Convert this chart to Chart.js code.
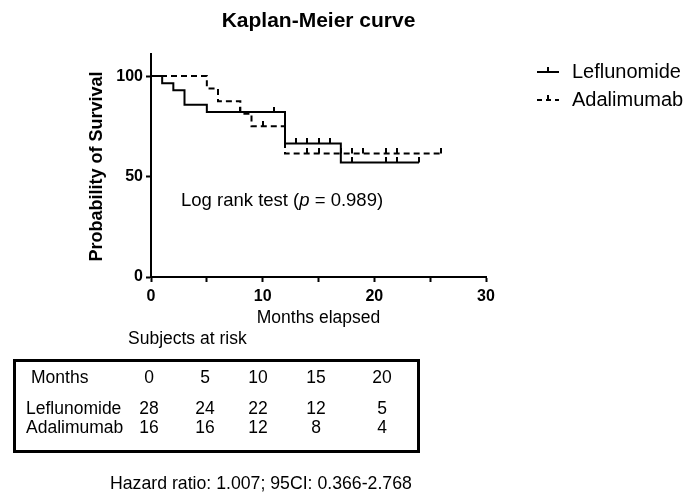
<!DOCTYPE html>
<html>
<head>
<meta charset="utf-8">
<script src="https://cdn.jsdelivr.net/npm/chart.js@4"></script>
<style>
  body { margin: 0; background: #fff; font-family: "Liberation Sans", Arial, sans-serif; color: #000; }
  #wrap { position: relative; width: 686px; height: 500px; overflow: hidden; }
  #km { position: absolute; left: 0; top: 0; }
  .txt { position: absolute; white-space: nowrap; font-size: 17.5px; line-height: 20px; }
  .c { transform: translateX(-50%); }
  #riskBox { position: absolute; left: 13px; top: 359px; width: 401px; height: 88px; border: 3px solid #000; }
</style>
</head>
<body>
<div id="wrap">
  <canvas id="km" width="686" height="500"></canvas>
  <div class="txt" style="left:181px; top:190px; font-size:18.5px;">Log rank test (<i>p</i> = 0.989)</div>
  <div class="txt" style="left:128px; top:328px;">Subjects at risk</div>
  <div id="riskBox"></div>
  <div id="riskRows"></div>
  <div class="txt" style="left:110px; top:473px; font-size:17.7px;">Hazard ratio: 1.007; 95CI: 0.366-2.768</div>
</div>
<script>
// survival curves (months, % surviving)
const lefTimes = [0, 1, 2, 3, 5, 12, 17, 24];
const lefSurv = [100, 96.4, 92.9, 85.7, 82.1, 66.5, 57, 57];
const lefCensor = [8, 11, 13, 14, 15, 16, 18, 21, 22, 24];

const adaTimes = [0, 5, 6, 8, 9, 12, 26];
const adaSurv = [100, 93.8, 87.5, 81.3, 75, 61.5, 61.5];
const adaCensor = [10, 14, 15, 17, 18, 19, 21, 22, 26];

const groupNames = ["Leflunomide", "Adalimumab"];

// subjects at risk table
const riskMonths = [0, 5, 10, 15, 20];
const lefAtRisk = [28, 24, 22, 12, 5];
const adaAtRisk = [16, 16, 12, 8, 4];

const yTicks = [0, 50, 100];

function levelAt(times, surv, t) {
  let v = surv[0];
  for (let i = 0; i < times.length; i++) {
    if (times[i] <= t) v = surv[i];
  }
  return v;
}

function stepPoints(times, surv) {
  return times.map((t, i) => ({ x: t, y: surv[i] }));
}

function censorPoints(times, surv, cens) {
  return cens.map(t => ({ x: t, y: levelAt(times, surv, t) }));
}

// small upward tick used for censored observations
const tick = document.createElement("canvas");
tick.width = 2;
tick.height = 10;
const tctx = tick.getContext("2d");
tctx.fillStyle = "#000";
tctx.fillRect(0, 0, 2, 5);

// risk table text
const colX = [149, 205, 258, 316, 382];
let html = "";
html += `<div class="txt" style="left:31px; top:367px;">Months</div>`;
html += `<div class="txt" style="left:26px; top:398px;">${groupNames[0]}</div>`;
html += `<div class="txt" style="left:26px; top:417px;">${groupNames[1]}</div>`;
riskMonths.forEach((m, i) => {
  html += `<div class="txt c" style="left:${colX[i]}px; top:367px;">${m}</div>`;
  html += `<div class="txt c" style="left:${colX[i]}px; top:398px;">${lefAtRisk[i]}</div>`;
  html += `<div class="txt c" style="left:${colX[i]}px; top:417px;">${adaAtRisk[i]}</div>`;
});
document.getElementById("riskRows").innerHTML = html;

const FONT = '"Liberation Sans", Arial, sans-serif';

const decor = {
  id: "decor",
  afterDraw(chart) {
    const ctx = chart.ctx;
    const a = chart.chartArea;
    ctx.save();
    ctx.fillStyle = "#000";
    ctx.textBaseline = "middle";

    // title
    ctx.font = "bold 21px " + FONT;
    ctx.textAlign = "center";
    ctx.fillText("Kaplan-Meier curve", (a.left + a.right) / 2, 21);

    // x title
    ctx.font = "17.5px " + FONT;
    ctx.fillText("Months elapsed", (a.left + a.right) / 2, 318);

    // y title
    ctx.save();
    ctx.translate(97, (a.top + a.bottom) / 2 + 1);
    ctx.rotate(-Math.PI / 2);
    ctx.font = "bold 18px " + FONT;
    ctx.fillText("Probability of Survival", 0, 0);
    ctx.restore();

    // legend
    const rows = [{ y: 72, dash: [] }, { y: 100, dash: [5, 4] }];
    rows.forEach((r, i) => {
      ctx.strokeStyle = "#000";
      ctx.lineWidth = 2;
      ctx.setLineDash(r.dash);
      ctx.beginPath();
      ctx.moveTo(537, r.y);
      ctx.lineTo(559, r.y);
      ctx.stroke();
      ctx.setLineDash([]);
      ctx.fillRect(547, r.y - 5, 2, 5);
      ctx.font = "20px " + FONT;
      ctx.textAlign = "left";
      ctx.fillText(groupNames[i], 572, r.y);
    });
    ctx.restore();
  }
};

new Chart(document.getElementById("km"), {
  type: "scatter",
  data: {
    datasets: [
      {
        label: groupNames[0],
        data: stepPoints(lefTimes, lefSurv),
        showLine: true,
        stepped: true,
        borderColor: "#000",
        borderWidth: 2,
        pointRadius: 0
      },
      {
        label: groupNames[1],
        data: stepPoints(adaTimes, adaSurv),
        showLine: true,
        stepped: true,
        borderColor: "#000",
        borderWidth: 2,
        borderDash: [6, 4],
        pointRadius: 0
      },
      {
        label: groupNames[0] + " censored",
        data: censorPoints(lefTimes, lefSurv, lefCensor),
        pointStyle: tick,
        pointRadius: 3
      },
      {
        label: groupNames[1] + " censored",
        data: censorPoints(adaTimes, adaSurv, adaCensor),
        pointStyle: tick,
        pointRadius: 3
      }
    ]
  },
  options: {
    responsive: false,
    animation: false,
    layout: { padding: { left: 0, top: 54, right: 200, bottom: 183 } },
    plugins: { legend: { display: false }, tooltip: { enabled: false }, title: { display: false } },
    scales: {
      x: {
        type: "linear",
        min: 0,
        max: 30,
        afterFit: s => { s.height = 40; },
        border: { color: "#000", width: 2 },
        grid: { drawOnChartArea: false, drawTicks: true, tickLength: 5, tickColor: "#000", tickWidth: 2 },
        ticks: {
          stepSize: 5,
          autoSkip: false,
          maxRotation: 0,
          padding: 5,
          color: "#000",
          font: { family: FONT, size: 16, weight: "bold" },
          callback: v => (v % 10 === 0 ? v : "")
        }
      },
      y: {
        min: 0,
        max: 111,
        afterFit: s => { s.width = 151; },
        afterBuildTicks: s => { s.ticks = yTicks.map(v => ({ value: v })); },
        border: { color: "#000", width: 2 },
        grid: { drawOnChartArea: false, drawTicks: true, tickLength: 5, tickColor: "#000", tickWidth: 2 },
        ticks: {
          padding: 3,
          color: "#000",
          font: { family: FONT, size: 16, weight: "bold" }
        }
      }
    }
  },
  plugins: [decor]
});
</script>
</body>
</html>
